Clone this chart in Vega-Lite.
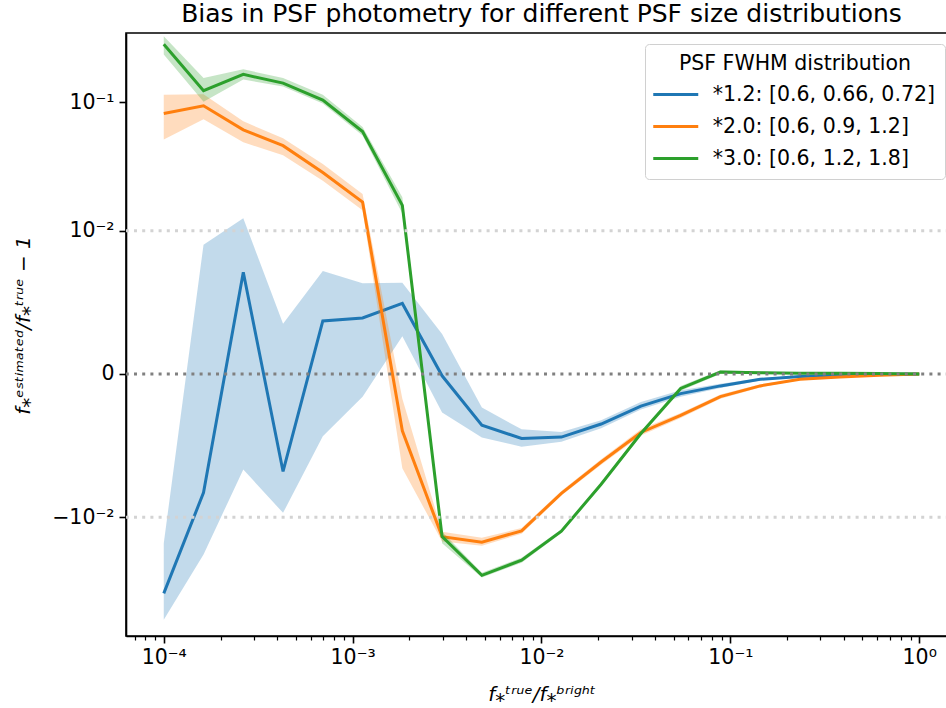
{
  "$schema": "https://vega.github.io/schema/vega-lite/v6.json",
  "width": 831,
  "height": 603,
  "autosize": {"type": "none"},
  "padding": {"left": 126, "top": 33, "right": 0, "bottom": 72},
  "config": {
    "font": "DejaVu Sans",
    "view": {"stroke": "black", "strokeWidth": 1.6},
    "axis": {"domainColor": "black", "domainWidth": 1.6, "tickColor": "black", "tickWidth": 1.6, "tickSize": 7, "labelFontSize": 20.5, "labelColor": "black", "titleColor": "black", "titleFontSize": 20, "titleFontWeight": "normal", "grid": false, "labelFont": "DejaVu Sans", "titleFont": "DejaVu Sans"},
    "legend": {"titleFontSize": 20.5, "titleFontWeight": "normal", "titleColor": "black", "titlePadding": 7, "titleLimit": 500, "labelFontSize": 20.5, "labelColor": "black", "labelLimit": 500, "labelOffset": 24, "symbolType": "M-2,0H2", "symbolSize": 506.25, "symbolOffset": 7.75, "symbolStrokeWidth": 3, "rowPadding": 8, "padding": 10, "cornerRadius": 4, "strokeColor": "#d0d0d0", "fillColor": "white", "labelFont": "DejaVu Sans", "titleFont": "DejaVu Sans"}
  },
  "title": {"text": "Bias in PSF photometry for different PSF size distributions", "fontSize": 25, "fontWeight": "normal", "font": "DejaVu Sans", "color": "black", "offset": 6, "anchor": "middle"},
  "datasets": {
    "pts": [
      {"s": "*1.2: [0.6, 0.66, 0.72]", "x": 0.0001, "y": -0.04, "lo": -0.0636, "hi": -0.0162},
      {"s": "*1.2: [0.6, 0.66, 0.72]", "x": 0.00016238, "y": -0.00621, "lo": -0.0199, "hi": 0.00765},
      {"s": "*1.2: [0.6, 0.66, 0.72]", "x": 0.00026367, "y": 0.0044, "lo": -0.00386, "hi": 0.0126},
      {"s": "*1.2: [0.6, 0.66, 0.72]", "x": 0.00042813, "y": -0.00403, "lo": -0.00921, "hi": 0.00126},
      {"s": "*1.2: [0.6, 0.66, 0.72]", "x": 0.00069519, "y": 0.00137, "lo": -0.00177, "hi": 0.00451},
      {"s": "*1.2: [0.6, 0.66, 0.72]", "x": 0.0011288, "y": 0.00149, "lo": -0.00044, "hi": 0.00347},
      {"s": "*1.2: [0.6, 0.66, 0.72]", "x": 0.001833, "y": 0.00218, "lo": 0.00084, "hi": 0.00351},
      {"s": "*1.2: [0.6, 0.66, 0.72]", "x": 0.0029764, "y": -0.00003, "lo": -0.00087, "hi": 0.00091},
      {"s": "*1.2: [0.6, 0.66, 0.72]", "x": 0.0048329, "y": -0.0013, "lo": -0.00183, "hi": -0.00072},
      {"s": "*1.2: [0.6, 0.66, 0.72]", "x": 0.0078476, "y": -0.00188, "lo": -0.0023, "hi": -0.00147},
      {"s": "*1.2: [0.6, 0.66, 0.72]", "x": 0.012743, "y": -0.00181, "lo": -0.00204, "hi": -0.00158},
      {"s": "*1.2: [0.6, 0.66, 0.72]", "x": 0.020691, "y": -0.00126, "lo": -0.00142, "hi": -0.00112},
      {"s": "*1.2: [0.6, 0.66, 0.72]", "x": 0.033598, "y": -0.00068, "lo": -0.00078, "hi": -0.00057},
      {"s": "*1.2: [0.6, 0.66, 0.72]", "x": 0.054556, "y": -0.00037, "lo": -0.00044, "hi": -0.0003},
      {"s": "*1.2: [0.6, 0.66, 0.72]", "x": 0.088587, "y": -0.00021, "lo": -0.00025, "hi": -0.00017},
      {"s": "*1.2: [0.6, 0.66, 0.72]", "x": 0.14384, "y": -0.00009, "lo": -0.00011, "hi": -0.00007},
      {"s": "*1.2: [0.6, 0.66, 0.72]", "x": 0.23357, "y": -0.00004, "lo": -0.00005, "hi": -0.00003},
      {"s": "*1.2: [0.6, 0.66, 0.72]", "x": 0.37927, "y": -0.00002, "lo": -0.000025, "hi": -0.000015},
      {"s": "*1.2: [0.6, 0.66, 0.72]", "x": 0.61585, "y": -0.00001, "lo": -0.000012, "hi": -0.000008},
      {"s": "*1.2: [0.6, 0.66, 0.72]", "x": 1, "y": 0, "lo": -0.000002, "hi": 0.000002},
      {"s": "*2.0: [0.6, 0.9, 1.2]", "x": 0.0001, "y": 0.0822, "lo": 0.052, "hi": 0.114},
      {"s": "*2.0: [0.6, 0.9, 1.2]", "x": 0.00016238, "y": 0.0942, "lo": 0.0743, "hi": 0.1153},
      {"s": "*2.0: [0.6, 0.9, 1.2]", "x": 0.00026367, "y": 0.0617, "lo": 0.0496, "hi": 0.0717},
      {"s": "*2.0: [0.6, 0.9, 1.2]", "x": 0.00042813, "y": 0.0467, "lo": 0.0395, "hi": 0.0532},
      {"s": "*2.0: [0.6, 0.9, 1.2]", "x": 0.00069519, "y": 0.029, "lo": 0.025, "hi": 0.0337},
      {"s": "*2.0: [0.6, 0.9, 1.2]", "x": 0.0011288, "y": 0.017, "lo": 0.0146, "hi": 0.0197},
      {"s": "*2.0: [0.6, 0.9, 1.2]", "x": 0.001833, "y": -0.00153, "lo": -0.00377, "hi": -0.00049},
      {"s": "*2.0: [0.6, 0.9, 1.2]", "x": 0.0029764, "y": -0.01438, "lo": -0.01573, "hi": -0.01315},
      {"s": "*2.0: [0.6, 0.9, 1.2]", "x": 0.0048329, "y": -0.0159, "lo": -0.017, "hi": -0.0147},
      {"s": "*2.0: [0.6, 0.9, 1.2]", "x": 0.0078476, "y": -0.01292, "lo": -0.01363, "hi": -0.01225},
      {"s": "*2.0: [0.6, 0.9, 1.2]", "x": 0.012743, "y": -0.0063, "lo": -0.00658, "hi": -0.00602},
      {"s": "*2.0: [0.6, 0.9, 1.2]", "x": 0.020691, "y": -0.00328, "lo": -0.00348, "hi": -0.00308},
      {"s": "*2.0: [0.6, 0.9, 1.2]", "x": 0.033598, "y": -0.0016, "lo": -0.00174, "hi": -0.00146},
      {"s": "*2.0: [0.6, 0.9, 1.2]", "x": 0.054556, "y": -0.00096, "lo": -0.00104, "hi": -0.00088},
      {"s": "*2.0: [0.6, 0.9, 1.2]", "x": 0.088587, "y": -0.00044, "lo": -0.00049, "hi": -0.00039},
      {"s": "*2.0: [0.6, 0.9, 1.2]", "x": 0.14384, "y": -0.00021, "lo": -0.00024, "hi": -0.00018},
      {"s": "*2.0: [0.6, 0.9, 1.2]", "x": 0.23357, "y": -0.00009, "lo": -0.0001, "hi": -0.00008},
      {"s": "*2.0: [0.6, 0.9, 1.2]", "x": 0.37927, "y": -0.00005, "lo": -0.00006, "hi": -0.00004},
      {"s": "*2.0: [0.6, 0.9, 1.2]", "x": 0.61585, "y": -0.00002, "lo": -0.000025, "hi": -0.000015},
      {"s": "*2.0: [0.6, 0.9, 1.2]", "x": 1, "y": 0, "lo": -0.000002, "hi": 0.000002},
      {"s": "*3.0: [0.6, 1.2, 1.8]", "x": 0.0001, "y": 0.275, "lo": 0.23, "hi": 0.317},
      {"s": "*3.0: [0.6, 1.2, 1.8]", "x": 0.00016238, "y": 0.1225, "lo": 0.101, "hi": 0.153},
      {"s": "*3.0: [0.6, 1.2, 1.8]", "x": 0.00026367, "y": 0.163, "lo": 0.149, "hi": 0.178},
      {"s": "*3.0: [0.6, 1.2, 1.8]", "x": 0.00042813, "y": 0.14, "lo": 0.132, "hi": 0.153},
      {"s": "*3.0: [0.6, 1.2, 1.8]", "x": 0.00069519, "y": 0.104, "lo": 0.098, "hi": 0.114},
      {"s": "*3.0: [0.6, 1.2, 1.8]", "x": 0.0011288, "y": 0.06, "lo": 0.0558, "hi": 0.0648},
      {"s": "*3.0: [0.6, 1.2, 1.8]", "x": 0.001833, "y": 0.016, "lo": 0.0138, "hi": 0.0186},
      {"s": "*3.0: [0.6, 1.2, 1.8]", "x": 0.0029764, "y": -0.01438, "lo": -0.0162, "hi": -0.01315},
      {"s": "*3.0: [0.6, 1.2, 1.8]", "x": 0.0048329, "y": -0.029, "lo": -0.0302, "hi": -0.0277},
      {"s": "*3.0: [0.6, 1.2, 1.8]", "x": 0.0078476, "y": -0.0221, "lo": -0.0231, "hi": -0.0211},
      {"s": "*3.0: [0.6, 1.2, 1.8]", "x": 0.012743, "y": -0.013, "lo": -0.01347, "hi": -0.01254},
      {"s": "*3.0: [0.6, 1.2, 1.8]", "x": 0.020691, "y": -0.00525, "lo": -0.00539, "hi": -0.00511},
      {"s": "*3.0: [0.6, 1.2, 1.8]", "x": 0.033598, "y": -0.00165, "lo": -0.00175, "hi": -0.00155},
      {"s": "*3.0: [0.6, 1.2, 1.8]", "x": 0.054556, "y": -0.00026, "lo": -0.00031, "hi": -0.00021},
      {"s": "*3.0: [0.6, 1.2, 1.8]", "x": 0.088587, "y": 0.00003, "lo": 0, "hi": 0.00006},
      {"s": "*3.0: [0.6, 1.2, 1.8]", "x": 0.14384, "y": 0.00002, "lo": 0, "hi": 0.00004},
      {"s": "*3.0: [0.6, 1.2, 1.8]", "x": 0.23357, "y": 0.00001, "lo": 0, "hi": 0.00002},
      {"s": "*3.0: [0.6, 1.2, 1.8]", "x": 0.37927, "y": 0.00001, "lo": 0, "hi": 0.00002},
      {"s": "*3.0: [0.6, 1.2, 1.8]", "x": 0.61585, "y": 0.000005, "lo": 0, "hi": 0.00001},
      {"s": "*3.0: [0.6, 1.2, 1.8]", "x": 1, "y": 0, "lo": -0.000002, "hi": 0.000002}
    ],
    "lim": [{"v": 0.01}, {"v": -0.01}],
    "zero": [{"v": 0}]
  },
  "resolve": {"axis": {"x": "independent"}},
  "layer": [
    {
      "layer": [
        {
          "data": {"name": "pts"},
          "transform": [{"filter": {"field": "s", "equal": "*1.2: [0.6, 0.66, 0.72]"}}],
          "mark": {"type": "area", "fill": "#1f77b4", "opacity": 0.27},
          "encoding": {
            "x": {"field": "x", "type": "quantitative", "scale": {"type": "log", "domain": [0.000063096, 1.58489], "nice": false},
              "axis": {"orient": "bottom", "values": [0.0001, 0.001, 0.01, 0.1, 1], "labelExpr": "datum.value < 0.0005 ? '10⁻⁴' : datum.value < 0.005 ? '10⁻³' : datum.value < 0.05 ? '10⁻²' : datum.value < 0.5 ? '10⁻¹' : '10⁰'", "labelPadding": 4, "title": "f⁎ᵗʳᵘᵉ/f⁎ᵇʳⁱᵍʰᵗ", "titleFontStyle": "italic", "titleX": 415.5, "titleY": 64, "titleAlign": "center", "titleBaseline": "alphabetic"}},
            "y": {"field": "lo", "type": "quantitative", "scale": {"type": "symlog", "constant": 0.00091, "domain": [-0.0847, 0.335], "nice": false, "zero": false},
              "axis": {"orient": "left", "values": [-0.01, 0, 0.01, 0.1], "labelExpr": "datum.value > 0.05 ? '10⁻¹' : datum.value > 0.005 ? '10⁻²' : datum.value > -0.005 ? '0' : '−10⁻²'", "labelPadding": 5, "title": "f⁎ᵉˢᵗⁱᵐᵃᵗᵉᵈ/f⁎ᵗʳᵘᵉ − 1", "titleFontStyle": "italic", "titleX": -97, "titleY": 292, "titleAlign": "center", "titleBaseline": "alphabetic", "titleAngle": -90}},
            "y2": {"field": "hi"}
          }
        },
        {
          "data": {"name": "pts"},
          "transform": [{"filter": {"field": "s", "equal": "*1.2: [0.6, 0.66, 0.72]"}}],
          "mark": {"type": "line", "strokeWidth": 3},
          "encoding": {
            "x": {"field": "x", "type": "quantitative", "scale": {"type": "log", "domain": [0.000063096, 1.58489], "nice": false}},
            "y": {"field": "y", "type": "quantitative", "scale": {"type": "symlog", "constant": 0.00091, "domain": [-0.0847, 0.335], "nice": false, "zero": false}},
            "stroke": {"field": "s", "type": "nominal", "scale": {"domain": ["*1.2: [0.6, 0.66, 0.72]", "*2.0: [0.6, 0.9, 1.2]", "*3.0: [0.6, 1.2, 1.8]"], "range": ["#1f77b4", "#ff7f0e", "#2ca02c"]},
              "legend": {"title": "PSF FWHM distribution", "orient": "none", "legendX": 519, "legendY": 11, "titleAnchor": "middle"}}
          }
        },
        {
          "data": {"name": "pts"},
          "transform": [{"filter": {"field": "s", "equal": "*2.0: [0.6, 0.9, 1.2]"}}],
          "mark": {"type": "area", "fill": "#ff7f0e", "opacity": 0.27},
          "encoding": {
            "x": {"field": "x", "type": "quantitative", "scale": {"type": "log", "domain": [0.000063096, 1.58489], "nice": false}},
            "y": {"field": "lo", "type": "quantitative", "scale": {"type": "symlog", "constant": 0.00091, "domain": [-0.0847, 0.335], "nice": false, "zero": false}},
            "y2": {"field": "hi"}
          }
        },
        {
          "data": {"name": "pts"},
          "transform": [{"filter": {"field": "s", "equal": "*2.0: [0.6, 0.9, 1.2]"}}],
          "mark": {"type": "line", "strokeWidth": 3},
          "encoding": {
            "x": {"field": "x", "type": "quantitative", "scale": {"type": "log", "domain": [0.000063096, 1.58489], "nice": false}},
            "y": {"field": "y", "type": "quantitative", "scale": {"type": "symlog", "constant": 0.00091, "domain": [-0.0847, 0.335], "nice": false, "zero": false}},
            "stroke": {"field": "s", "type": "nominal", "scale": {"domain": ["*1.2: [0.6, 0.66, 0.72]", "*2.0: [0.6, 0.9, 1.2]", "*3.0: [0.6, 1.2, 1.8]"], "range": ["#1f77b4", "#ff7f0e", "#2ca02c"]},
              "legend": {"title": "PSF FWHM distribution", "orient": "none", "legendX": 519, "legendY": 11, "titleAnchor": "middle"}}
          }
        },
        {
          "data": {"name": "pts"},
          "transform": [{"filter": {"field": "s", "equal": "*3.0: [0.6, 1.2, 1.8]"}}],
          "mark": {"type": "area", "fill": "#2ca02c", "opacity": 0.27},
          "encoding": {
            "x": {"field": "x", "type": "quantitative", "scale": {"type": "log", "domain": [0.000063096, 1.58489], "nice": false}},
            "y": {"field": "lo", "type": "quantitative", "scale": {"type": "symlog", "constant": 0.00091, "domain": [-0.0847, 0.335], "nice": false, "zero": false}},
            "y2": {"field": "hi"}
          }
        }
      ]
    },
    {
      "data": {"name": "pts"},
      "transform": [{"filter": {"field": "s", "equal": "*3.0: [0.6, 1.2, 1.8]"}}],
      "mark": {"type": "line", "strokeWidth": 3},
      "encoding": {
        "x": {"field": "x", "type": "quantitative", "scale": {"type": "log", "domain": [0.000063096, 1.58489], "nice": false},
          "axis": {"orient": "bottom", "values": [0.00007, 0.00008, 0.00009, 0.0002, 0.0003, 0.0004, 0.0005, 0.0006, 0.0007, 0.0008, 0.0009, 0.002, 0.003, 0.004, 0.005, 0.006, 0.007, 0.008, 0.009, 0.02, 0.03, 0.04, 0.05, 0.06, 0.07, 0.08, 0.09, 0.2, 0.3, 0.4, 0.5, 0.6, 0.7, 0.8, 0.9], "labels": false, "domain": false, "tickSize": 4, "tickWidth": 1.2, "title": null}},
        "y": {"field": "y", "type": "quantitative", "scale": {"type": "symlog", "constant": 0.00091, "domain": [-0.0847, 0.335], "nice": false, "zero": false}},
        "stroke": {"field": "s", "type": "nominal", "scale": {"domain": ["*1.2: [0.6, 0.66, 0.72]", "*2.0: [0.6, 0.9, 1.2]", "*3.0: [0.6, 1.2, 1.8]"], "range": ["#1f77b4", "#ff7f0e", "#2ca02c"]},
          "legend": {"title": "PSF FWHM distribution", "orient": "none", "legendX": 519, "legendY": 11, "titleAnchor": "middle"}}
      }
    },
    {
      "data": {"name": "lim"},
      "mark": {"type": "rule", "stroke": "#d3d3d3", "strokeWidth": 3, "strokeDash": [3, 5.2]},
      "encoding": {
        "y": {"field": "v", "type": "quantitative", "scale": {"type": "symlog", "constant": 0.00091, "domain": [-0.0847, 0.335], "nice": false, "zero": false}}
      }
    },
    {
      "data": {"name": "zero"},
      "mark": {"type": "rule", "stroke": "#808080", "strokeWidth": 3, "strokeDash": [3, 5.2]},
      "encoding": {
        "y": {"field": "v", "type": "quantitative", "scale": {"type": "symlog", "constant": 0.00091, "domain": [-0.0847, 0.335], "nice": false, "zero": false}}
      }
    }
  ]
}
